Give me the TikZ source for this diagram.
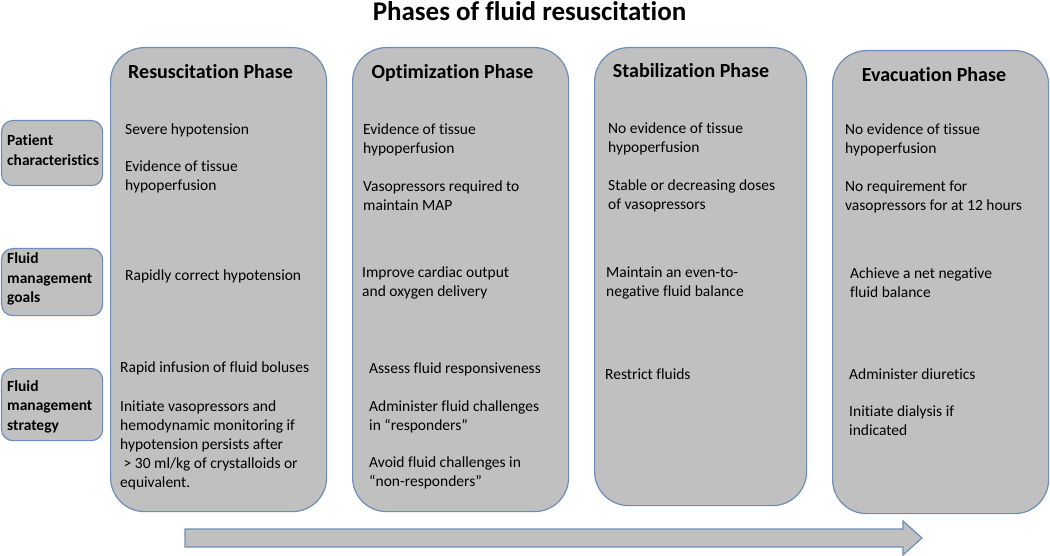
\documentclass[tikz,border=0pt]{standalone}
\usepackage{fontspec}
\setmainfont{Carlito}[Ligatures={NoCommon}]
\definecolor{boxfill}{RGB}{192,192,192}
\definecolor{boxline}{RGB}{108,142,184}
\newcommand\mlines[1]{\begin{tabular}[t]{@{}l@{}}#1\end{tabular}}
\tikzset{
  phase/.style={draw=boxline, fill=boxfill, line width=1.2pt, rounded corners=34pt, inner sep=0pt, anchor=north west},
  rowbox/.style={draw=boxline, fill=boxfill, line width=1.2pt, rounded corners=11pt, inner sep=0pt, anchor=north west},
  body/.style={anchor=base west, inner sep=0pt, font=\fontsize{15.5}{19}\selectfont},
  head/.style={anchor=base, inner sep=0pt, font=\bfseries\fontsize{20}{24}\selectfont},
  side/.style={anchor=base west, inner sep=0pt, font=\bfseries\fontsize{15.5}{19.5}\selectfont},
  flowarrow/.style={draw=boxline, fill=boxfill, line width=1.2pt, line join=miter},
}
\begin{document}
\begin{tikzpicture}[x=1pt, y=-1pt]
\useasboundingbox (0,0) rectangle (1050,556);

% title
\node[anchor=base, inner sep=0pt, font=\bfseries\fontsize{27}{32}\selectfont] (title) at (529.5,21) {Phases of fluid resuscitation};

% phase boxes
\node[phase, minimum width=216pt, minimum height=464pt] (p1) at (110,47) {};
\node[phase, minimum width=216pt, minimum height=464pt] (p2) at (352,47) {};
\node[phase, minimum width=212pt, minimum height=458pt] (p3) at (594,47) {};
\node[phase, minimum width=216pt, minimum height=463pt] (p4) at (832,50) {};

% row label boxes
\node[rowbox, minimum width=101pt, minimum height=65pt] (r1) at (1,120) {};
\node[rowbox, minimum width=101pt, minimum height=67pt] (r2) at (1,248) {};
\node[rowbox, minimum width=101pt, minimum height=72pt] (r3) at (1,368) {};
\node[side] (r1t) at (7,146) {\mlines{Patient\\characteristics}};
\node[side] (r2t) at (7,264) {\mlines{Fluid\\management\\goals}};
\node[side] (r3t) at (7,391) {\mlines{Fluid\\management\\strategy}};

% headers
\node[head] (h1) at (210.5,79) {Resuscitation Phase};
\node[head] (h2) at (452.5,79) {Optimization Phase};
\node[head] (h3) at (691,78) {Stabilization Phase};
\node[head] (h4) at (934,82) {Evacuation Phase};

% phase 1
\node[body] (a1) at (125,135) {Severe hypotension};
\node[body] (a2) at (125,172) {\mlines{Evidence of tissue\\hypoperfusion}};
\node[body] (a3) at (125,280) {Rapidly correct hypotension};
\node[body] (a4) at (120,372) {Rapid infusion of fluid boluses};
\node[body] (a5) at (120,411) {\mlines{Initiate vasopressors and\\hemodynamic monitoring if\\hypotension persists after\\\ > 30 ml/kg of crystalloids or\\equivalent.}};

% phase 2
\node[body] (b1) at (363,135) {\mlines{Evidence of tissue\\hypoperfusion}};
\node[body] (b2) at (363,192) {\mlines{Vasopressors required to\\maintain MAP}};
\node[body] (b3) at (362,278) {\mlines{Improve cardiac output\\and oxygen delivery}};
\node[body] (b4) at (369,373) {Assess fluid responsiveness};
\node[body] (b5) at (369,411) {\mlines{Administer fluid challenges\\in “responders”}};
\node[body] (b6) at (369,467) {\mlines{Avoid fluid challenges in\\“non-responders”}};

% phase 3
\node[body] (c1) at (608,134) {\mlines{No evidence of tissue\\hypoperfusion}};
\node[body] (c2) at (608,191) {\mlines{Stable or decreasing doses\\of vasopressors}};
\node[body] (c3) at (606,277) {\mlines{Maintain an even-to-\\negative fluid balance}};
\node[body] (c4) at (605,379) {Restrict fluids};

% phase 4
\node[body] (d1) at (845,135) {\mlines{No evidence of tissue\\hypoperfusion}};
\node[body] (d2) at (845,192) {\mlines{No requirement for\\vasopressors for at 12 hours}};
\node[body] (d3) at (850,279) {\mlines{Achieve a net negative\\fluid balance}};
\node[body] (d4) at (849,379) {Administer diuretics};
\node[body] (d5) at (849,416) {\mlines{Initiate dialysis if\\indicated}};

% progression arrow
\draw[flowarrow] (185,529) -- (903,529) -- (903,521) -- (922,538) -- (903,555) -- (903,547) -- (185,547) -- cycle;
\end{tikzpicture}
\end{document}
